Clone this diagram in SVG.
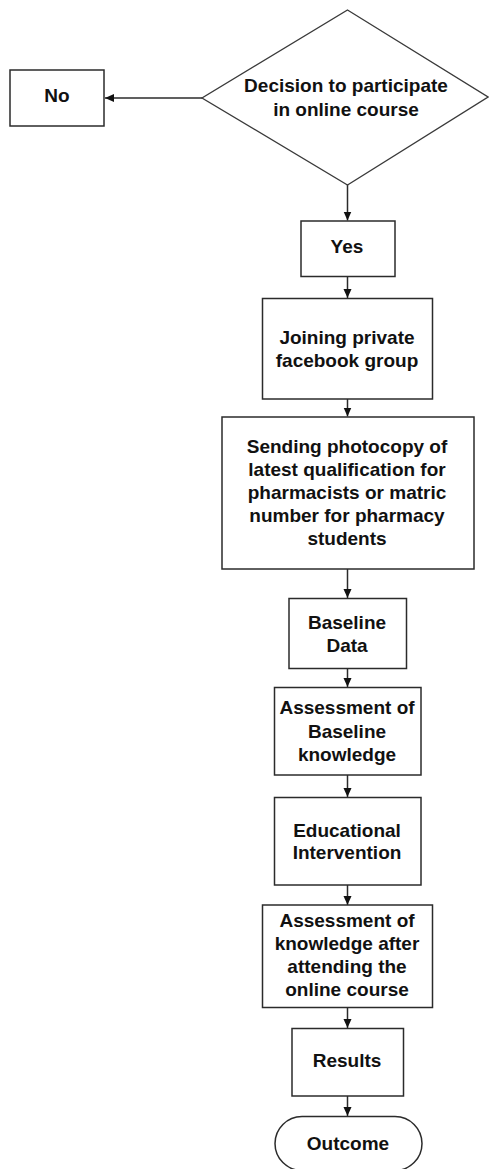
<svg xmlns="http://www.w3.org/2000/svg" width="489" height="1169" viewBox="0 0 489 1169">
<style>
.box{fill:#fff;stroke:#2b2b2b;stroke-width:1.5}
.dia{fill:#fff;stroke:#3a3a3a;stroke-width:1.3}
.t{font-family:"Liberation Sans",Arial,sans-serif;font-weight:bold;font-size:19px;fill:#111;text-anchor:middle}
.c{stroke:#2b2b2b;stroke-width:1.5;fill:none;marker-end:url(#ah)}
</style>
<defs>
<marker id="ah" markerUnits="userSpaceOnUse" markerWidth="10" markerHeight="10" refX="9" refY="5" orient="auto">
<path d="M0,1 L9,5 L0,9 Z" fill="#111"/>
</marker>
</defs>
<rect width="489" height="1169" fill="#fff"/>
<g id="connectors">
<line class="c" x1="202" y1="98" x2="105" y2="98"/>
<line class="c" x1="347.5" y1="185" x2="347.5" y2="220.5"/>
<line class="c" x1="347.5" y1="276.5" x2="347.5" y2="298"/>
<line class="c" x1="347.5" y1="399" x2="347.5" y2="416.5"/>
<line class="c" x1="347.5" y1="569" x2="347.5" y2="598"/>
<line class="c" x1="347.5" y1="668.5" x2="347.5" y2="687"/>
<line class="c" x1="347.5" y1="775" x2="347.5" y2="797"/>
<line class="c" x1="347.5" y1="885" x2="347.5" y2="905"/>
<line class="c" x1="347.5" y1="1008" x2="347.5" y2="1028"/>
<line class="c" x1="347.5" y1="1096" x2="347.5" y2="1116"/>
</g>
<g id="decision">
<polygon class="dia" points="347.5,10 488,97 347.5,185 202,98"/>
<text class="t" x="346" y="92">Decision to participate</text>
<text class="t" x="346" y="116">in online course</text>
</g>
<g id="no">
<rect class="box" x="10" y="70" width="94" height="56"/>
<text class="t" x="57" y="102">No</text>
</g>
<g id="yes">
<rect class="box" x="301" y="221" width="94" height="55.5"/>
<text class="t" x="347" y="253">Yes</text>
</g>
<g id="joining">
<rect class="box" x="262.5" y="298.5" width="170" height="100.5"/>
<text class="t" x="347" y="344">Joining private</text>
<text class="t" x="347" y="367">facebook group</text>
</g>
<g id="sending">
<rect class="box" x="222" y="417" width="252" height="152"/>
<text class="t" x="347" y="453">Sending photocopy of</text>
<text class="t" x="347" y="476">latest qualification for</text>
<text class="t" x="347" y="499">pharmacists or matric</text>
<text class="t" x="347" y="522">number for pharmacy</text>
<text class="t" x="347" y="545">students</text>
</g>
<g id="baseline-data">
<rect class="box" x="289" y="598.5" width="117.5" height="70"/>
<text class="t" x="347" y="628.5">Baseline</text>
<text class="t" x="347" y="651.5">Data</text>
</g>
<g id="assess-baseline">
<rect class="box" x="274.5" y="687.5" width="146.5" height="87.5"/>
<text class="t" x="347" y="714">Assessment of</text>
<text class="t" x="347" y="737.5">Baseline</text>
<text class="t" x="347" y="760.5">knowledge</text>
</g>
<g id="educational">
<rect class="box" x="274.5" y="797.5" width="146.5" height="87.5"/>
<text class="t" x="347" y="837">Educational</text>
<text class="t" x="347" y="859">Intervention</text>
</g>
<g id="assess-after">
<rect class="box" x="262.5" y="905" width="170" height="102.5"/>
<text class="t" x="347" y="927">Assessment of</text>
<text class="t" x="347" y="950">knowledge after</text>
<text class="t" x="347" y="973">attending the</text>
<text class="t" x="347" y="996">online course</text>
</g>
<g id="results">
<rect class="box" x="292" y="1028.5" width="111.5" height="67.5"/>
<text class="t" x="347" y="1067">Results</text>
</g>
<g id="outcome">
<rect class="box" x="275" y="1116.5" width="147" height="54" rx="27" ry="27"/>
<text class="t" x="348" y="1150">Outcome</text>
</g>
</svg>
